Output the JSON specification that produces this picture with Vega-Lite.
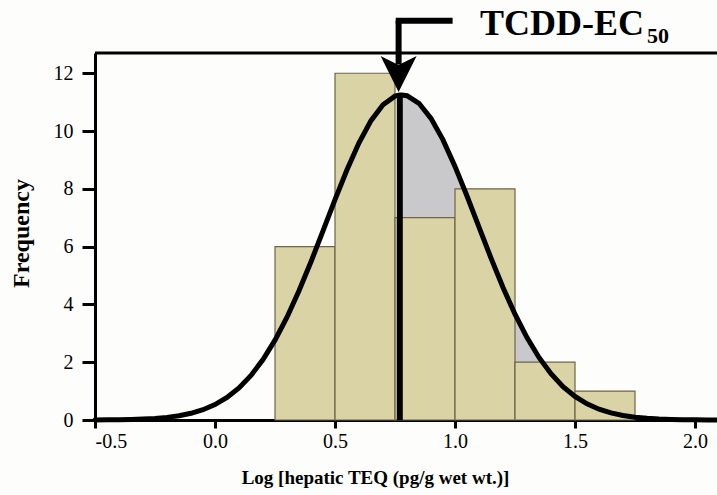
{
  "$schema": "https://vega.github.io/schema/vega-lite/v6.json",
  "width": 624,
  "height": 367,
  "autosize": {"type": "none"},
  "padding": {"left": 95, "top": 53, "right": 0, "bottom": 75},
  "background": "#fdfdfb",
  "config": {
    "view": {"stroke": null},
    "font": "Liberation Serif",
    "axis": {"grid": false, "domainColor": "#000", "domainWidth": 3, "tickColor": "#000", "tickWidth": 3,
      "labelFont": "Liberation Serif", "labelFontSize": 20, "labelColor": "#000",
      "titleFont": "Liberation Serif", "titleFontSize": 19, "titleFontWeight": "bold", "titleColor": "#000", "zindex": 1}
  },
  "datasets": {
    "bins": [
      {"start": 0.25, "end": 0.5, "count": 6},
      {"start": 0.5, "end": 0.75, "count": 12},
      {"start": 0.75, "end": 1.0, "count": 7},
      {"start": 1.0, "end": 1.25, "count": 8},
      {"start": 1.25, "end": 1.5, "count": 2},
      {"start": 1.5, "end": 1.75, "count": 1}
    ],
    "curve": [
      {"x": -0.5, "y": 0.003}, {"x": -0.45, "y": 0.0056}, {"x": -0.4, "y": 0.0104}, {"x": -0.35, "y": 0.0185},
      {"x": -0.3, "y": 0.0323}, {"x": -0.25, "y": 0.0548}, {"x": -0.2, "y": 0.0909}, {"x": -0.15, "y": 0.147},
      {"x": -0.1, "y": 0.2315}, {"x": -0.05, "y": 0.356}, {"x": 0.0, "y": 0.533}, {"x": 0.05, "y": 0.779},
      {"x": 0.1, "y": 1.11}, {"x": 0.15, "y": 1.542}, {"x": 0.2, "y": 2.09}, {"x": 0.25, "y": 2.762},
      {"x": 0.3, "y": 3.558}, {"x": 0.35, "y": 4.471}, {"x": 0.4, "y": 5.477}, {"x": 0.45, "y": 6.542},
      {"x": 0.5, "y": 7.623}, {"x": 0.55, "y": 8.658}, {"x": 0.6, "y": 9.591}, {"x": 0.65, "y": 10.359},
      {"x": 0.7, "y": 10.91}, {"x": 0.75, "y": 11.206}, {"x": 0.77, "y": 11.246}, {"x": 0.778, "y": 11.25},
      {"x": 0.8, "y": 11.223}, {"x": 0.85, "y": 10.96}, {"x": 0.9, "y": 10.438}, {"x": 0.95, "y": 9.693},
      {"x": 1.0, "y": 8.776}, {"x": 1.05, "y": 7.75}, {"x": 1.1, "y": 6.673}, {"x": 1.15, "y": 5.603},
      {"x": 1.2, "y": 4.587}, {"x": 1.25, "y": 3.662}, {"x": 1.3, "y": 2.851}, {"x": 1.35, "y": 2.164},
      {"x": 1.4, "y": 1.602}, {"x": 1.45, "y": 1.156}, {"x": 1.5, "y": 0.814}, {"x": 1.55, "y": 0.559},
      {"x": 1.6, "y": 0.374}, {"x": 1.65, "y": 0.244}, {"x": 1.7, "y": 0.155}, {"x": 1.75, "y": 0.0964},
      {"x": 1.8, "y": 0.0583}, {"x": 1.85, "y": 0.0344}, {"x": 1.9, "y": 0.0198}, {"x": 1.95, "y": 0.0111},
      {"x": 2.0, "y": 0.0061}, {"x": 2.05, "y": 0.0032}, {"x": 2.1, "y": 0.0017}
    ],
    "one": [{"label": "TCDD-EC", "sub": "50"}]
  },
  "encoding": {
    "x": {"type": "quantitative", "scale": {"domain": [-0.5, 2.1], "nice": false, "zero": false},
      "axis": {"values": [-0.5, 0, 0.5, 1, 1.5, 2], "labelExpr": "replace(format(datum.value, '.1f'), '\u2212', '-')",
        "labelFont": "Liberation Serif", "labelFontSize": 20,
        "tickSize": 8, "labelPadding": 3, "title": "Log [hepatic TEQ (pg/g wet wt.)]",
        "titleFont": "Liberation Serif", "titleFontSize": 19,
        "titleX": 280, "titleY": 63, "titleAnchor": null, "titleAlign": "center", "titleBaseline": "alphabetic"}},
    "y": {"type": "quantitative", "scale": {"domain": [0, 12.7], "nice": false},
      "axis": {"values": [0, 2, 4, 6, 8, 10, 12], "tickSize": 13, "labelPadding": 9, "title": "Frequency",
        "labelFont": "Liberation Serif", "labelFontSize": 20,
        "titleFont": "Liberation Serif", "titleFontSize": 24,
        "titleX": -74, "titleY": 180, "titleAngle": -90, "titleAlign": "center", "titleBaseline": "middle"}}
  },
  "layer": [
    {
      "data": {"name": "curve"},
      "transform": [{"filter": "datum.x >= 0.77"}],
      "mark": {"type": "area", "color": "#c9c9cc"},
      "encoding": {"x": {"field": "x"}, "y": {"field": "y"}}
    },
    {
      "data": {"name": "bins"},
      "mark": {"type": "rect", "fill": "#d9d3a6", "stroke": "#6d6546", "strokeWidth": 1.2},
      "encoding": {"x": {"field": "start"}, "x2": {"field": "end"}, "y": {"field": "count"}, "y2": {"datum": 0}}
    },
    {
      "data": {"name": "curve"},
      "mark": {"type": "line", "color": "#000", "strokeWidth": 5, "strokeCap": "round"},
      "encoding": {"x": {"field": "x"}, "y": {"field": "y"}}
    },
    {
      "data": {"name": "one"},
      "mark": {"type": "rule", "color": "#000", "strokeWidth": 6},
      "encoding": {"x": {"datum": 0.77}, "y": {"datum": 0}, "y2": {"datum": 11.3}}
    },
    {
      "data": {"name": "one"},
      "mark": {"type": "rule", "color": "#000", "strokeWidth": 3},
      "encoding": {"x": {"datum": -0.5}, "x2": {"datum": 2.1}, "y": {"datum": 12.7}}
    },
    {
      "data": {"name": "one"},
      "mark": {"type": "rule", "color": "#000", "strokeWidth": 6},
      "encoding": {"x": {"datum": 0.765}, "y": {"datum": 13.82}, "y2": {"datum": 12.3}}
    },
    {
      "data": {"name": "one"},
      "mark": {"type": "rule", "color": "#000", "strokeWidth": 6},
      "encoding": {"x": {"datum": 0.753}, "x2": {"datum": 0.99}, "y": {"datum": 13.82}}
    },
    {
      "data": {"name": "one"},
      "mark": {"type": "point", "filled": true, "color": "#000", "opacity": 1, "size": 1300,
        "shape": "M0,1 L-1,-1 L0,-0.5 L1,-1 Z"},
      "encoding": {"x": {"datum": 0.765}, "y": {"datum": 11.97}}
    },
    {
      "data": {"name": "one"},
      "mark": {"type": "text", "font": "Liberation Serif", "fontWeight": "bold", "fontSize": 36, "align": "left", "baseline": "alphabetic", "color": "#000"},
      "encoding": {"x": {"datum": 1.104}, "y": {"datum": 13.32}, "text": {"field": "label"}}
    },
    {
      "data": {"name": "one"},
      "mark": {"type": "text", "font": "Liberation Serif", "fontWeight": "bold", "fontSize": 22, "align": "left", "baseline": "alphabetic", "color": "#000"},
      "encoding": {"x": {"datum": 1.8}, "y": {"datum": 13.04}, "text": {"field": "sub"}}
    }
  ]
}
